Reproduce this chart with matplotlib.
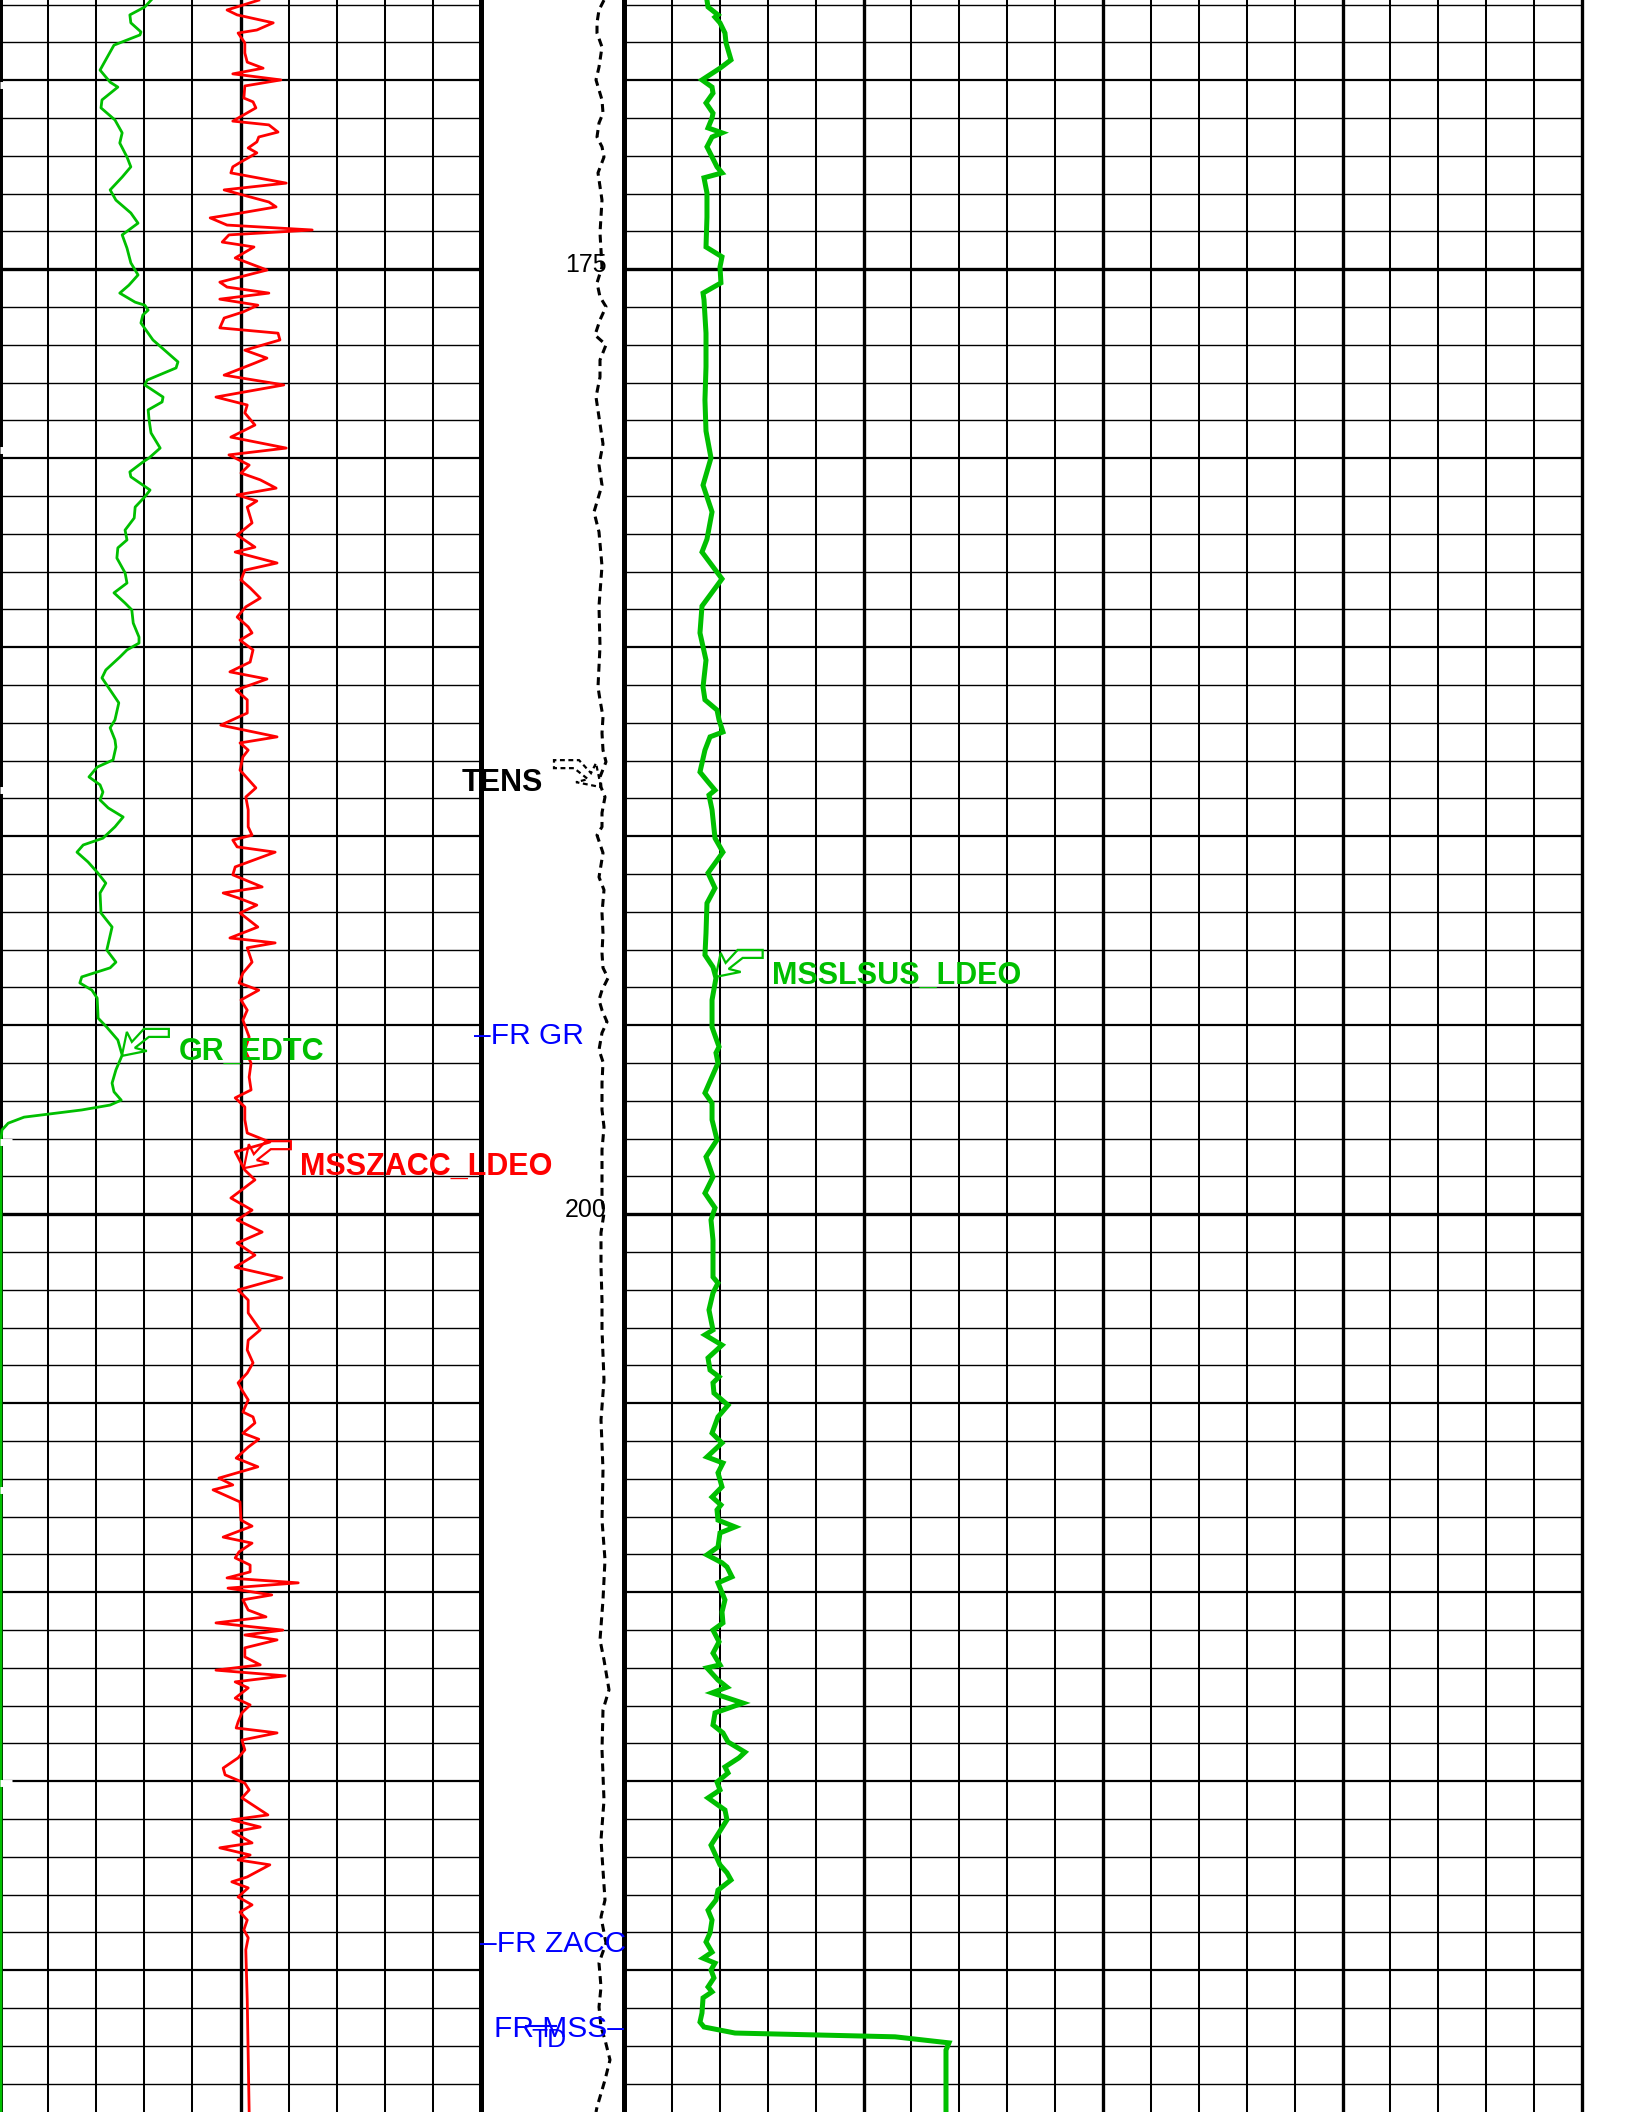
import numpy as np
import matplotlib
matplotlib.use('Agg')
import matplotlib.pyplot as plt
from matplotlib.patches import Polygon
from matplotlib.lines import Line2D
from matplotlib.transforms import ScaledTranslation

plt.rcParams['font.family'] = ['Liberation Sans', 'DejaVu Sans']

# ---- log data: (depth m, value) ----
# GR_EDTC, gAPI
gr_log = [
    (167.88, 31.4), (168.06, 30.1), (168.27, 27.0), (168.48, 27.2), (168.72, 29.3), (168.80, 29.1),
    (169.07, 23.7), (169.41, 22.2), (169.73, 20.8), (170.05, 22.9), (170.18, 24.5), (170.52, 21.2),
    (170.73, 21.0), (171.05, 23.9), (171.39, 25.4), (171.66, 24.9), (172.03, 26.4), (172.29, 27.2),
    (172.56, 25.4), (172.90, 22.9), (173.17, 24.1), (173.51, 27.2), (173.78, 28.7), (174.09, 25.4),
    (174.44, 26.4), (174.83, 27.2), (175.15, 28.7), (175.42, 26.8), (175.63, 24.9), (175.87, 28.1),
    (175.95, 30.1), (176.08, 30.8), (176.21, 29.7), (176.42, 29.3), (176.87, 31.8), (177.45, 37.0),
    (177.61, 36.6), (177.93, 30.6), (178.06, 30.1), (178.38, 33.9), (178.51, 33.7), (178.72, 30.8),
    (178.99, 31.0), (179.33, 31.4), (179.73, 33.3), (179.99, 31.0), (180.10, 29.7), (180.36, 27.0),
    (180.49, 27.2), (180.84, 31.2), (181.02, 30.1), (181.29, 28.1), (181.58, 27.9), (181.90, 26.0),
    (182.16, 26.4), (182.37, 24.5), (182.64, 24.3), (183.03, 26.0), (183.30, 26.4), (183.56, 23.7),
    (183.83, 26.0), (184.01, 27.4), (184.36, 27.7), (184.73, 28.9), (184.89, 28.9), (185.07, 26.4),
    (185.26, 24.9), (185.60, 22.0), (185.81, 21.2), (186.13, 22.9), (186.47, 24.7), (186.92, 23.9),
    (187.13, 22.9), (187.45, 23.9), (187.64, 24.1), (187.98, 23.5), (188.17, 20.2), (188.43, 18.5),
    (188.64, 20.8), (188.83, 21.4), (189.04, 20.8), (189.25, 22.5), (189.49, 25.6), (189.75, 23.9),
    (190.05, 21.4), (190.23, 17.3), (190.42, 16.0), (190.68, 18.3), (190.95, 20.2), (191.24, 22.0),
    (191.50, 20.8), (192.03, 21.0), (192.40, 23.3), (193.01, 22.2), (193.33, 24.1), (193.48, 22.9),
    (193.72, 17.0), (193.88, 16.6), (194.07, 19.1), (194.28, 20.2), (194.81, 20.4), (195.05, 22.2),
    (195.39, 24.5), (195.79, 25.4), (196.18, 24.1), (196.53, 23.3), (196.76, 23.7), (196.98, 25.2),
    (197.11, 22.9), (197.24, 17.0), (197.43, 5.0), (197.59, 1.7), (197.77, 0.4), (198.03, 0.2),
    (223.75, 0.2),
]

# MSSZACC_LDEO, m/s2
zacc_log = [
    (167.88, 9.838), (168.14, 9.772), (168.27, 9.793), (168.48, 9.868), (168.67, 9.834), (168.75, 9.795),
    (169.01, 9.809), (169.28, 9.809), (169.52, 9.814), (169.68, 9.847), (169.83, 9.784), (169.99, 9.884),
    (170.15, 9.809), (170.47, 9.807), (170.57, 9.826), (170.73, 9.832), (171.08, 9.784), (171.18, 9.859),
    (171.37, 9.878), (171.50, 9.838), (171.63, 9.834), (171.79, 9.816), (171.92, 9.834), (172.16, 9.801),
    (172.29, 9.784), (172.45, 9.780), (172.72, 9.895), (172.90, 9.766), (173.22, 9.859), (173.35, 9.874),
    (173.51, 9.801), (173.64, 9.737), (173.83, 9.772), (173.96, 9.949), (174.09, 9.776), (174.28, 9.762),
    (174.41, 9.828), (174.70, 9.789), (175.02, 9.855), (175.34, 9.757), (175.47, 9.772), (175.63, 9.859),
    (175.79, 9.757), (175.95, 9.836), (176.13, 9.805), (176.29, 9.766), (176.55, 9.757), (176.69, 9.878),
    (176.87, 9.882), (177.14, 9.809), (177.35, 9.855), (177.48, 9.830), (177.80, 9.766), (178.06, 9.890),
    (178.38, 9.749), (178.59, 9.814), (178.80, 9.809), (179.12, 9.830), (179.44, 9.780), (179.73, 9.895),
    (179.91, 9.776), (180.18, 9.818), (180.39, 9.801), (180.57, 9.841), (180.79, 9.874), (180.97, 9.793),
    (181.13, 9.834), (181.29, 9.814), (181.71, 9.824), (182.03, 9.793), (182.35, 9.830), (182.48, 9.789),
    (182.77, 9.876), (182.96, 9.809), (183.22, 9.801), (183.43, 9.820), (183.70, 9.841), (183.93, 9.811),
    (184.20, 9.793), (184.46, 9.816), (184.62, 9.824), (184.81, 9.799), (185.07, 9.826), (185.39, 9.820),
    (185.65, 9.778), (185.84, 9.855), (186.13, 9.791), (186.39, 9.814), (186.74, 9.814), (187.06, 9.759),
    (187.37, 9.876), (187.53, 9.799), (187.72, 9.816), (187.90, 9.805), (188.25, 9.799), (188.72, 9.832),
    (188.96, 9.811), (189.30, 9.816), (189.75, 9.816), (189.97, 9.824), (190.10, 9.784), (190.28, 9.793),
    (190.42, 9.872), (190.81, 9.789), (191.02, 9.784), (191.34, 9.845), (191.50, 9.764), (191.63, 9.795),
    (191.82, 9.834), (192.03, 9.799), (192.40, 9.836), (192.69, 9.778), (192.82, 9.872), (192.95, 9.814),
    (193.33, 9.824), (193.62, 9.805), (193.88, 9.797), (194.07, 9.838), (194.33, 9.801), (194.60, 9.814),
    (194.86, 9.805), (195.31, 9.818), (195.65, 9.809), (196.00, 9.822), (196.37, 9.818), (196.71, 9.822),
    (196.92, 9.789), (197.16, 9.809), (197.50, 9.809), (197.85, 9.814), (198.09, 9.861), (198.35, 9.789),
    (198.83, 9.809), (199.09, 9.830), (199.57, 9.780), (199.89, 9.824), (200.15, 9.793), (200.47, 9.845),
    (200.76, 9.793), (201.08, 9.830), (201.40, 9.789), (201.68, 9.886), (202.00, 9.795), (202.27, 9.816),
    (202.61, 9.816), (203.06, 9.841), (203.33, 9.816), (203.59, 9.814), (203.93, 9.826), (204.20, 9.814),
    (204.46, 9.795), (204.65, 9.803), (204.91, 9.816), (205.23, 9.805), (205.36, 9.826), (205.52, 9.830),
    (205.79, 9.805), (205.95, 9.838), (206.16, 9.816), (206.45, 9.791), (206.68, 9.836), (206.98, 9.755),
    (207.16, 9.784), (207.29, 9.743), (207.61, 9.799), (208.09, 9.801), (208.25, 9.824), (208.54, 9.764),
    (208.70, 9.824), (208.93, 9.797), (209.09, 9.789), (209.28, 9.820), (209.46, 9.820), (209.62, 9.772),
    (209.75, 9.920), (209.89, 9.774), (210.07, 9.865), (210.20, 9.805), (210.47, 9.816), (210.65, 9.853),
    (210.81, 9.749), (211.00, 9.888), (211.13, 9.809), (211.26, 9.876), (211.47, 9.809), (211.71, 9.809),
    (211.92, 9.841), (212.06, 9.749), (212.21, 9.893), (212.37, 9.789), (212.53, 9.816), (212.80, 9.789),
    (212.98, 9.820), (213.19, 9.803), (213.43, 9.795), (213.59, 9.791), (213.72, 9.876), (213.91, 9.803),
    (214.17, 9.809), (214.38, 9.795), (214.65, 9.764), (214.83, 9.768), (215.05, 9.809), (215.23, 9.818),
    (215.44, 9.803), (215.68, 9.832), (215.89, 9.857), (216.02, 9.782), (216.21, 9.841), (216.34, 9.784),
    (216.63, 9.824), (216.76, 9.757), (216.95, 9.820), (217.08, 9.795), (217.21, 9.861), (217.53, 9.814),
    (217.66, 9.782), (217.82, 9.816), (218.06, 9.795), (218.27, 9.824), (218.46, 9.799), (218.67, 9.814),
    (218.93, 9.807), (219.14, 9.816), (219.46, 9.811), (220.78, 9.814), (223.75, 9.818),
]

# MSSLSUS_LDEO, 1e-5 SI
mss_log = [
    (167.88, 86.6), (168.06, 87.7), (168.27, 98.1), (168.33, 95.0), (168.48, 100.2), (168.75, 105.4),
    (169.01, 106.5), (169.46, 111.7), (169.68, 100.2), (169.99, 81.4), (170.18, 91.9), (170.34, 92.9),
    (170.60, 85.6), (170.87, 92.9), (171.00, 91.9), (171.26, 87.7), (171.39, 102.3), (171.50, 91.9),
    (171.76, 86.6), (172.03, 91.9), (172.29, 97.1), (172.45, 102.3), (172.58, 83.5), (172.98, 86.6),
    (173.62, 86.6), (174.41, 85.6), (174.67, 102.3), (174.94, 100.2), (175.36, 101.2), (175.63, 82.5),
    (175.81, 83.5), (176.69, 85.6), (177.14, 85.6), (177.58, 85.6), (178.46, 84.5), (179.28, 85.6),
    (179.99, 90.8), (180.71, 82.5), (181.42, 91.9), (182.14, 86.6), (182.48, 81.4), (183.19, 102.3),
    (183.91, 81.4), (184.62, 79.3), (185.34, 85.6), (186.05, 82.5), (186.39, 84.5), (186.66, 97.1),
    (186.92, 99.2), (187.24, 103.3), (187.37, 89.8), (187.72, 84.5), (188.30, 79.3), (188.56, 87.7),
    (188.78, 95.0), (188.91, 88.7), (189.30, 91.9), (190.05, 95.0), (190.42, 103.3), (190.97, 87.7),
    (191.37, 95.0), (191.77, 86.6), (192.56, 85.6), (193.14, 84.5), (193.46, 92.9), (193.75, 96.0),
    (194.33, 91.9), (195.05, 91.9), (195.57, 99.2), (195.73, 96.0), (196.00, 98.1), (196.79, 84.5),
    (197.06, 91.9), (197.50, 91.9), (198.03, 97.1), (198.48, 85.6), (199.01, 92.9), (199.44, 84.5),
    (199.83, 95.0), (200.15, 90.8), (200.68, 92.9), (201.66, 92.9), (201.82, 98.1), (202.08, 92.9),
    (202.53, 88.7), (203.06, 92.9), (203.19, 84.5), (203.46, 102.3), (203.80, 87.7), (204.12, 89.8),
    (204.30, 99.2), (204.46, 92.9), (204.73, 93.9), (205.05, 108.6), (205.36, 98.1), (205.79, 91.9),
    (206.05, 102.3), (206.42, 86.6), (206.58, 103.3), (206.84, 98.1), (207.21, 102.3), (207.48, 91.9),
    (207.69, 101.2), (207.82, 97.1), (208.09, 98.1), (208.27, 115.9), (208.43, 100.2), (208.80, 98.1),
    (209.01, 86.6), (209.22, 102.3), (209.33, 107.5), (209.59, 112.7), (209.75, 98.1), (210.20, 105.4),
    (210.52, 102.3), (210.81, 103.3), (211.00, 92.9), (211.31, 99.2), (211.61, 92.9), (211.92, 100.2),
    (212.00, 86.6), (212.32, 98.1), (212.51, 107.5), (212.66, 91.9), (212.93, 124.2), (213.19, 95.0),
    (213.51, 92.9), (213.72, 103.3), (213.96, 108.6), (214.23, 126.3), (214.38, 120.0), (214.62, 105.4),
    (214.78, 108.6), (215.02, 97.1), (215.23, 100.2), (215.44, 87.7), (215.76, 105.4), (216.02, 107.5),
    (216.69, 90.8), (217.21, 100.2), (217.42, 107.5), (217.61, 111.7), (217.88, 98.1), (218.14, 96.0),
    (218.41, 87.7), (218.67, 91.9), (219.01, 89.8), (219.25, 85.6), (219.52, 91.9), (219.68, 82.5),
    (219.81, 95.0), (219.99, 90.8), (220.20, 93.9), (220.44, 87.7), (220.57, 91.9), (220.73, 82.5),
    (221.13, 81.4), (221.37, 79.3), (221.50, 83.5), (221.66, 115.9), (221.76, 282.9), (221.92, 339.2),
    (222.11, 336.1), (223.75, 336.1),
]

# TENS, lbf
tens_log = [
    (167.88, 1230), (168.14, 1180), (168.48, 1160), (168.75, 1160), (169.12, 1210), (169.65, 1180),
    (169.99, 1150), (170.52, 1210), (170.87, 1220), (171.13, 1180), (171.50, 1160), (171.76, 1210),
    (172.03, 1230), (172.45, 1170), (173.17, 1210), (174.04, 1190), (174.94, 1210), (175.36, 1160),
    (175.73, 1190), (175.99, 1250), (176.34, 1190), (176.74, 1140), (177.00, 1250), (177.40, 1190),
    (177.85, 1190), (178.38, 1150), (179.62, 1220), (180.18, 1180), (180.71, 1210), (181.42, 1130),
    (181.95, 1180), (182.85, 1210), (183.91, 1180), (184.97, 1190), (186.05, 1170), (186.39, 1190),
    (186.84, 1220), (187.27, 1210), (187.72, 1220), (188.03, 1250), (188.43, 1190), (188.70, 1200),
    (188.96, 1240), (189.38, 1210), (189.75, 1210), (189.97, 1160), (190.44, 1220), (191.08, 1180),
    (191.42, 1230), (192.03, 1210), (192.56, 1220), (193.09, 1210), (193.48, 1220), (193.75, 1270),
    (194.07, 1210), (194.33, 1180), (194.60, 1210), (194.91, 1260), (195.20, 1210), (195.65, 1180),
    (195.97, 1220), (196.53, 1210), (197.24, 1210), (197.69, 1230), (198.30, 1210), (199.01, 1210),
    (199.62, 1210), (199.97, 1230), (200.49, 1200), (201.39, 1200), (202.27, 1210), (203.06, 1210),
    (204.38, 1230), (205.44, 1200), (206.76, 1220), (208.09, 1210), (209.14, 1240), (210.20, 1220),
    (211.26, 1190), (211.79, 1230), (212.58, 1280), (213.11, 1220), (214.17, 1210), (215.50, 1230),
    (216.55, 1200), (217.35, 1220), (218.14, 1240), (218.59, 1200), (219.28, 1250), (219.81, 1180),
    (220.44, 1200), (220.97, 1180), (221.50, 1200), (221.84, 1240), (222.37, 1290), (222.90, 1240),
    (223.62, 1160), (223.75, 1150),
]

depth_labels = [175, 200]
depth_top, depth_bottom = 167.876, 223.749

W, H = 1632, 2112
GREEN = '#00bf00'
fig = plt.figure(figsize=(W / 100, H / 100), dpi=100)
fig.patch.set_facecolor('white')


def track(x0, x1, xlim):
    ax = fig.add_axes([x0 / W, 0, (x1 - x0) / W, 1])
    ax.set_xlim(*xlim)
    ax.set_ylim(depth_bottom, depth_top)
    ax.set_axis_off()
    return ax


ax_gr = track(0, 481, (0, 100))
ax_za = track(0, 481, (9.3, 10.3))
ax_dp = track(481, 624, (0, 1430))
ax_ms = track(624, 1582, (0, 1000))

# depth grid
for ax in (ax_gr, ax_ms):
    for d in range(168, 224):
        lw = 2.4 if d % 25 == 0 else (1.6 if d % 5 == 0 else 1.0)
        ax.axhline(d, color='black', lw=lw, zorder=1)

for v in range(10, 100, 10):
    ax_gr.axvline(v, color='black', lw=2.4 if v == 50 else 1.45, zorder=1)
ax_gr.axvline(100, color='black', lw=3.6, zorder=1, clip_on=False)
ax_gr.axvline(0, color='black', lw=4.3, zorder=1, clip_on=False)
# small breaks on the left edge
ax_gr.hlines([170.12, 179.78, 188.77, 198.09, 207.29, 215.05], 0, 2.5, color='white', lw=5, zorder=4)

for v in range(50, 1000, 50):
    ax_ms.axvline(v, color='black', lw=2.4 if v % 250 == 0 else 1.45, zorder=1)
ax_ms.axvline(0, color='black', lw=3.6, zorder=1, clip_on=False)
ax_ms.axvline(1000, color='black', lw=2.4, zorder=1, clip_on=False)

# curves
gr_d, gr_v = np.array(gr_log).T
za_d, za_v = np.array(zacc_log).T
ms_d, ms_v = np.array(mss_log).T
te_d, te_v = np.array(tens_log).T

ax_gr.plot(gr_v, gr_d, color=GREEN, lw=2.0, zorder=3)
ax_za.plot(za_v, za_d, color='red', lw=2.0, zorder=3)
ax_ms.plot(ms_v, ms_d, color=GREEN, lw=3.6, zorder=3, solid_joinstyle='miter')
ax_dp.plot(te_v, te_d, color='black', lw=2.2, ls=(0, (2.6, 1.8)), zorder=3)

# hollow flag arrows pointing to the curves (pixel offsets from the tip)
FLAG = [(0, 0), (5, -24), (10, -14), (22, -27), (47, -27), (47, -19), (27, -19), (13, -8), (25, -5)]


def flag(ax, depth, d, v, color, mirror=1, ls='-'):
    x = np.interp(depth, d, v)
    tr = fig.dpi_scale_trans + ScaledTranslation(x, depth, ax.transData)
    pts = [(mirror * dx / 100, -dy / 100) for dx, dy in FLAG]
    ax.add_patch(Polygon(pts, closed=True, fill=False, ec=color, lw=1.6, ls=ls,
                         transform=tr, clip_on=False, zorder=5))


flag(ax_gr, 195.81, gr_d, gr_v, GREEN)
flag(ax_za, 198.78, za_d, za_v, 'red')
flag(ax_ms, 193.72, ms_d, ms_v, GREEN)
flag(ax_dp, 188.70, te_d, te_v, 'black', mirror=-1, ls=(0, (2.2, 1.6)))


def label(px, py, s, **kw):
    fig.text(px / W, 1 - py / H, s, va='baseline', **kw)


bold = dict(fontsize=22, fontweight='bold')
label(179, 1060, 'GR_EDTC', color=GREEN, **bold)
label(300, 1175, 'MSSZACC_LDEO', color='red', **bold)
label(772, 984, 'MSSLSUS_LDEO', color=GREEN, **bold)
label(462, 791, 'TENS', color='black', **bold)

for d in depth_labels:
    y = (d - depth_top) / (depth_bottom - depth_top) * H
    label(607, y + 3, str(d), color='black', fontsize=18, ha='right')

label(474, 1044, '\u2013FR GR', color='blue', fontsize=21.5)
label(480, 1952, '\u2013FR ZACC', color='blue', fontsize=21.5)
label(494, 2037, 'FR MSS\u2013', color='blue', fontsize=21.5)
label(531, 2047, 'TD', color='blue', fontsize=19)
fig.add_artist(Line2D([526 / W, 556 / W], [1 - 2026 / H] * 2, color='blue', lw=1.5))

fig.savefig('out.png', dpi=100, facecolor='white')
